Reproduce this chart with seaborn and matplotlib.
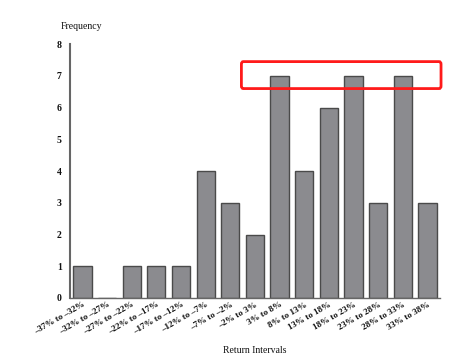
import matplotlib.pyplot as plt
import numpy as np
import pandas as pd
import seaborn as sns
from matplotlib.patches import FancyBboxPatch

intervals = [
    "–37% to –32%", "–32% to –27%", "–27% to –22%", "–22% to –17%",
    "–17% to –12%", "–12% to –7%", "–7% to –2%", "–2% to 3%",
    "3% to 8%", "8% to 13%", "13% to 18%", "18% to 23%",
    "23% to 28%", "28% to 33%", "33% to 38%",
]
frequency = [1, 0, 1, 1, 1, 4, 3, 2, 7, 4, 6, 7, 3, 7, 3]

df = pd.DataFrame({"interval": intervals, "frequency": frequency})

sns.set_style("white")
plt.rcParams["font.family"] = ["Liberation Serif", "DejaVu Serif"]

fig = plt.figure(figsize=(4.77, 3.59), dpi=100)
ax = fig.add_axes([0.147, 0.170, 0.775, 0.707])

sns.barplot(data=df, x="interval", y="frequency", color="#8b8b8f",
            saturation=1, width=0.74, edgecolor="#4a4a4a", linewidth=1.0, ax=ax)

ax.set_xlim(-0.5, len(intervals) - 0.5)
ax.set_ylim(0, 8)
ax.set_yticks(range(0, 9))
ax.tick_params(axis="y", direction="in", length=6, width=1.2, color="#555555",
               labelsize=7, pad=6, labelcolor="#111111")
for lbl in ax.get_yticklabels():
    lbl.set_fontweight("bold")
ax.tick_params(axis="x", length=0, labelsize=6.5, pad=2, labelcolor="#111111")
ax.set_xticks(range(len(intervals)))
ax.set_xticklabels(intervals, rotation=30, ha="right", rotation_mode="anchor")
for lbl in ax.get_xticklabels():
    lbl.set_fontweight("semibold")
ax.set_xticks(np.arange(0.5, len(intervals), 1), minor=True)
ax.tick_params(axis="x", which="minor", direction="in", length=4, width=1,
               color="#777777")

for side in ["top", "right"]:
    ax.spines[side].set_visible(False)
ax.spines["left"].set_color("#666666")
ax.spines["left"].set_linewidth(1.5)
ax.spines["bottom"].set_color("#666666")
ax.spines["bottom"].set_linewidth(1.0)

ax.set_xlabel("Return Intervals", fontsize=7, labelpad=7, color="#111111")
ax.set_ylabel("")
fig.text(0.127, 0.925, "Frequency", fontsize=7, ha="left", va="center",
         color="#111111")

box = FancyBboxPatch((6.45, 6.6), 8.1, 0.85,
                     boxstyle="round,pad=0,rounding_size=0.08",
                     fill=False, edgecolor="#ff1a1a", linewidth=2,
                     clip_on=False, mutation_aspect=1)
ax.add_patch(box)

fig.savefig("out.png", dpi=100)
